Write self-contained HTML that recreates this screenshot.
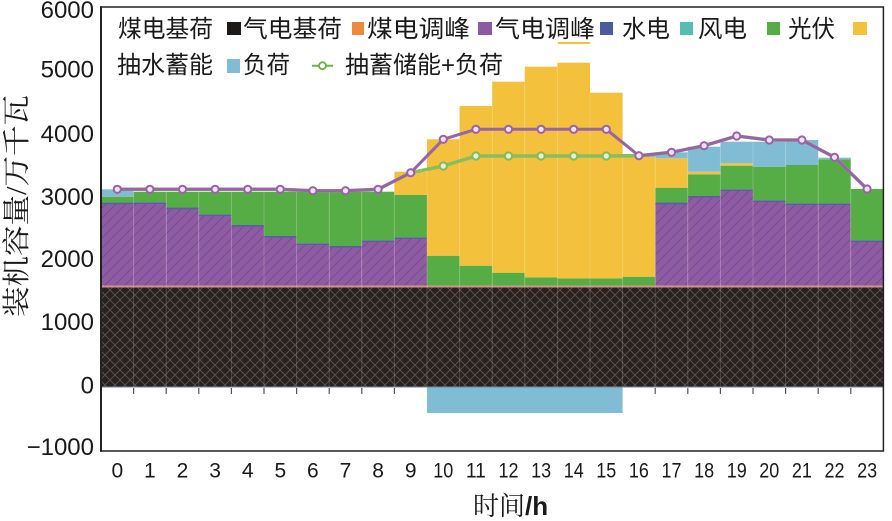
<!DOCTYPE html>
<html>
<head>
<meta charset="utf-8">
<style>
  html,body{margin:0;padding:0;background:#fff;}
  svg{display:block;}
  .cjk{font-family:"Liberation Sans","Noto Sans CJK SC",sans-serif;}
  .cjks{font-family:"Liberation Serif","Noto Serif CJK SC",serif;}
  .num{font-family:"Liberation Sans",sans-serif;fill:#1a1a1a;}
</style>
</head>
<body>
<svg width="892" height="521" viewBox="0 0 892 521" xmlns="http://www.w3.org/2000/svg">
  <defs>
    <pattern id="xh" patternUnits="userSpaceOnUse" width="10" height="10">
      <rect width="10" height="10" fill="#29211e"/>
      <path d="M0,0 L10,10 M10,0 L0,10" stroke="#5c5450" stroke-width="0.9"/>
    </pattern>
    <pattern id="ph" patternUnits="userSpaceOnUse" width="10" height="10">
      <rect width="10" height="10" fill="#8e5ca2"/>
      <path d="M0,10 L10,0 M-1,1 L1,-1 M9,11 L11,9" stroke="#7a4a8f" stroke-width="1"/>
    </pattern>
  </defs>

  <rect width="892" height="521" fill="#fff"/>

  <!-- black base (coal base) -->
  <rect x="101" y="287" width="782.4" height="100" fill="url(#xh)"/>
  <!-- orange thin band -->
  <rect x="101" y="285" width="782.4" height="2.5" fill="#d4928a"/>

  <!-- purple (with hatch) -->
  <g fill="url(#ph)">
    <rect x="101" y="203.3" width="32.6" height="82.2"/>
    <rect x="133.6" y="203" width="32.6" height="82.5"/>
    <rect x="166.2" y="208.3" width="32.6" height="77.2"/>
    <rect x="198.8" y="215" width="32.6" height="70.5"/>
    <rect x="231.4" y="225.7" width="32.6" height="59.8"/>
    <rect x="264" y="236.7" width="32.6" height="48.8"/>
    <rect x="296.6" y="244" width="32.6" height="41.5"/>
    <rect x="329.2" y="246.7" width="32.6" height="38.8"/>
    <rect x="361.8" y="241" width="32.6" height="44.5"/>
    <rect x="394.4" y="238" width="32.6" height="47.5"/>
    <rect x="655.2" y="203.3" width="32.6" height="82.2"/>
    <rect x="687.8" y="196.7" width="32.6" height="88.8"/>
    <rect x="720.4" y="190" width="32.6" height="95.5"/>
    <rect x="753" y="201" width="32.6" height="84.5"/>
    <rect x="785.6" y="204" width="32.6" height="81.5"/>
    <rect x="818.2" y="204" width="32.6" height="81.5"/>
    <rect x="850.8" y="241" width="32.6" height="44.5"/>
  </g>
  <!-- navy thin strips on top of purple -->
  <g fill="#5a5ea6">
    <rect x="101" y="202.5" width="32.6" height="1.8"/>
    <rect x="133.6" y="202.2" width="32.6" height="1.8"/>
    <rect x="166.2" y="207.5" width="32.6" height="1.8"/>
    <rect x="198.8" y="214.2" width="32.6" height="1.8"/>
    <rect x="231.4" y="224.9" width="32.6" height="1.8"/>
    <rect x="264" y="235.9" width="32.6" height="1.8"/>
    <rect x="296.6" y="243.2" width="32.6" height="1.8"/>
    <rect x="329.2" y="245.9" width="32.6" height="1.8"/>
    <rect x="361.8" y="240.2" width="32.6" height="1.8"/>
    <rect x="394.4" y="237.2" width="32.6" height="1.8"/>
    <rect x="655.2" y="202.5" width="32.6" height="1.8"/>
    <rect x="687.8" y="195.9" width="32.6" height="1.8"/>
    <rect x="720.4" y="189.2" width="32.6" height="1.8"/>
    <rect x="753" y="200.2" width="32.6" height="1.8"/>
    <rect x="785.6" y="203.2" width="32.6" height="1.8"/>
    <rect x="818.2" y="203.2" width="32.6" height="1.8"/>
    <rect x="850.8" y="240.2" width="32.6" height="1.8"/>
  </g>

  <!-- green (wind) -->
  <g fill="#57ad45">
    <rect x="101" y="196.7" width="32.6" height="6"/>
    <rect x="133.6" y="191.7" width="32.6" height="10.6"/>
    <rect x="166.2" y="191.7" width="32.6" height="15.9"/>
    <rect x="198.8" y="191.7" width="32.6" height="22.6"/>
    <rect x="231.4" y="191.7" width="32.6" height="33.3"/>
    <rect x="264" y="191.7" width="32.6" height="44.3"/>
    <rect x="296.6" y="191.7" width="32.6" height="51.6"/>
    <rect x="329.2" y="191.7" width="32.6" height="54.3"/>
    <rect x="361.8" y="191.7" width="32.6" height="48.6"/>
    <rect x="394.4" y="195" width="32.6" height="42.3"/>
    <rect x="427" y="255.7" width="32.6" height="29.8"/>
    <rect x="459.6" y="265.7" width="32.6" height="19.8"/>
    <rect x="492.2" y="272.7" width="32.6" height="12.8"/>
    <rect x="524.8" y="277.3" width="32.6" height="8.2"/>
    <rect x="557.4" y="278.3" width="32.6" height="7.2"/>
    <rect x="590" y="278.3" width="32.6" height="7.2"/>
    <rect x="622.6" y="276.7" width="32.6" height="8.8"/>
    <rect x="655.2" y="187.7" width="32.6" height="14.9"/>
    <rect x="687.8" y="174.3" width="32.6" height="21.7"/>
    <rect x="720.4" y="165.7" width="32.6" height="23.6"/>
    <rect x="753" y="166.7" width="32.6" height="33.6"/>
    <rect x="785.6" y="165" width="32.6" height="38.3"/>
    <rect x="818.2" y="159.3" width="32.6" height="44"/>
    <rect x="850.8" y="189" width="32.6" height="51.3"/>
  </g>

  <!-- yellow (PV) -->
  <g fill="#f3c13c">
    <rect x="394.4" y="171.7" width="32.6" height="23.3"/>
    <rect x="427" y="139.3" width="32.6" height="116.4"/>
    <rect x="459.6" y="106" width="32.6" height="159.7"/>
    <rect x="492.2" y="81.7" width="32.6" height="191"/>
    <rect x="524.8" y="66.7" width="32.6" height="210.6"/>
    <rect x="557.4" y="62.7" width="32.6" height="215.6"/>
    <rect x="590" y="92.7" width="32.6" height="185.6"/>
    <rect x="622.6" y="157" width="32.6" height="119.7"/>
    <rect x="655.2" y="158.3" width="32.6" height="29.4"/>
    <rect x="687.8" y="171.7" width="32.6" height="2.6"/>
    <rect x="720.4" y="163.3" width="32.6" height="2.4"/>
  </g>

  <!-- light blue (pumped storage) -->
  <g fill="#80bdd4">
    <rect x="101" y="189.3" width="32.6" height="7.4"/>
    <rect x="622.6" y="154" width="32.6" height="3"/>
    <rect x="655.2" y="152.3" width="32.6" height="6"/>
    <rect x="687.8" y="146.7" width="32.6" height="25"/>
    <rect x="720.4" y="141.7" width="32.6" height="21.6"/>
    <rect x="753" y="141.7" width="32.6" height="25"/>
    <rect x="785.6" y="140" width="32.6" height="25"/>
    <rect x="818.2" y="157.7" width="32.6" height="1.6"/>
    <rect x="427" y="387" width="195.6" height="26"/>
  </g>

  <!-- bar boundary faint lines -->
  <g stroke="#ffffff" stroke-opacity="0.18" stroke-width="1">
    <line x1="133.6" y1="190" x2="133.6" y2="387"/>
    <line x1="166.2" y1="192" x2="166.2" y2="387"/>
    <line x1="198.8" y1="192" x2="198.8" y2="387"/>
    <line x1="231.4" y1="192" x2="231.4" y2="387"/>
    <line x1="264" y1="192" x2="264" y2="387"/>
    <line x1="296.6" y1="192" x2="296.6" y2="387"/>
    <line x1="329.2" y1="192" x2="329.2" y2="387"/>
    <line x1="361.8" y1="192" x2="361.8" y2="387"/>
    <line x1="394.4" y1="192" x2="394.4" y2="387"/>
    <line x1="427" y1="172" x2="427" y2="387"/>
    <line x1="459.6" y1="140" x2="459.6" y2="387"/>
    <line x1="492.2" y1="106" x2="492.2" y2="387"/>
    <line x1="524.8" y1="82" x2="524.8" y2="387"/>
    <line x1="557.4" y1="67" x2="557.4" y2="387"/>
    <line x1="590" y1="93" x2="590" y2="387"/>
    <line x1="622.6" y1="155" x2="622.6" y2="387"/>
    <line x1="655.2" y1="155" x2="655.2" y2="387"/>
    <line x1="687.8" y1="153" x2="687.8" y2="387"/>
    <line x1="720.4" y1="147" x2="720.4" y2="387"/>
    <line x1="753" y1="142" x2="753" y2="387"/>
    <line x1="785.6" y1="142" x2="785.6" y2="387"/>
    <line x1="818.2" y1="158" x2="818.2" y2="387"/>
    <line x1="850.8" y1="160" x2="850.8" y2="387"/>
  </g>

  <!-- zero line -->
  <line x1="101" y1="387" x2="883.4" y2="387" stroke="#7482a0" stroke-width="1"/>

  <!-- x ticks below zero -->
  <g stroke="#555" stroke-width="1.2">
    <line x1="133.6" y1="388" x2="133.6" y2="394"/>
    <line x1="166.2" y1="388" x2="166.2" y2="394"/>
    <line x1="198.8" y1="388" x2="198.8" y2="394"/>
    <line x1="231.4" y1="388" x2="231.4" y2="394"/>
    <line x1="264" y1="388" x2="264" y2="394"/>
    <line x1="296.6" y1="388" x2="296.6" y2="394"/>
    <line x1="329.2" y1="388" x2="329.2" y2="394"/>
    <line x1="361.8" y1="388" x2="361.8" y2="394"/>
    <line x1="394.4" y1="388" x2="394.4" y2="394"/>
    <line x1="655.2" y1="388" x2="655.2" y2="394"/>
    <line x1="687.8" y1="388" x2="687.8" y2="394"/>
    <line x1="720.4" y1="388" x2="720.4" y2="394"/>
    <line x1="753" y1="388" x2="753" y2="394"/>
    <line x1="785.6" y1="388" x2="785.6" y2="394"/>
    <line x1="818.2" y1="388" x2="818.2" y2="394"/>
    <line x1="850.8" y1="388" x2="850.8" y2="394"/>
  </g>

  <!-- green line (storage + load) -->
  <polyline fill="none" stroke="#88bd60" stroke-width="3.5" stroke-linejoin="round"
    points="117.3,189.3 149.9,189.3 182.5,189.3 215.1,189.3 247.7,189.3 280.3,189.3 312.9,190.7 345.5,190.7 378.1,189.3 410.7,172.7 443.3,166 475.9,156 508.5,156 541.1,156 573.7,156 606.3,156 638.9,155.7 671.5,152.3 704.1,145.7 736.7,136 769.3,140 801.9,140 834.5,157.3 867.1,189"/>
  <g fill="#e4f1da" stroke="#84ba5a" stroke-width="2">
    <circle cx="443.3" cy="166" r="3.6"/>
    <circle cx="475.9" cy="156" r="3.6"/>
    <circle cx="508.5" cy="156" r="3.6"/>
    <circle cx="541.1" cy="156" r="3.6"/>
    <circle cx="573.7" cy="156" r="3.6"/>
    <circle cx="606.3" cy="156" r="3.6"/>
  </g>

  <!-- purple line -->
  <polyline fill="none" stroke="#9a62a9" stroke-width="3" stroke-linejoin="round"
    points="117.3,189.3 149.9,189.3 182.5,189.3 215.1,189.3 247.7,189.3 280.3,189.3 312.9,190.7 345.5,190.7 378.1,189.3 410.7,172.7 443.3,139.3 475.9,129.3 508.5,129.3 541.1,129.3 573.7,129.3 606.3,129.3 638.9,155.7 671.5,152.3 704.1,145.7 736.7,136 769.3,140 801.9,140 834.5,157.3 867.1,189"/>
  <g fill="#f0e2f3" stroke="#9a62a9" stroke-width="2">
    <circle cx="117.3" cy="189.3" r="3.6"/>
    <circle cx="149.9" cy="189.3" r="3.6"/>
    <circle cx="182.5" cy="189.3" r="3.6"/>
    <circle cx="215.1" cy="189.3" r="3.6"/>
    <circle cx="247.7" cy="189.3" r="3.6"/>
    <circle cx="280.3" cy="189.3" r="3.6"/>
    <circle cx="312.9" cy="190.7" r="3.6"/>
    <circle cx="345.5" cy="190.7" r="3.6"/>
    <circle cx="378.1" cy="189.3" r="3.6"/>
    <circle cx="410.7" cy="172.7" r="3.6"/>
    <circle cx="443.3" cy="139.3" r="3.6"/>
    <circle cx="475.9" cy="129.3" r="3.6"/>
    <circle cx="508.5" cy="129.3" r="3.6"/>
    <circle cx="541.1" cy="129.3" r="3.6"/>
    <circle cx="573.7" cy="129.3" r="3.6"/>
    <circle cx="606.3" cy="129.3" r="3.6"/>
    <circle cx="638.9" cy="155.7" r="3.6"/>
    <circle cx="671.5" cy="152.3" r="3.6"/>
    <circle cx="704.1" cy="145.7" r="3.6"/>
    <circle cx="736.7" cy="136" r="3.6"/>
    <circle cx="769.3" cy="140" r="3.6"/>
    <circle cx="801.9" cy="140" r="3.6"/>
    <circle cx="834.5" cy="157.3" r="3.6"/>
    <circle cx="867.1" cy="189" r="3.6"/>
  </g>

  <!-- frame -->
  <rect x="101" y="7" width="782.4" height="444" fill="none" stroke="#222" stroke-width="1.5"/>
  <line x1="101" y1="6.3" x2="101" y2="451.7" stroke="#222" stroke-width="2"/>

  <!-- legend -->
  <g class="cjk" font-size="24" fill="#1a1a1a">
    <text x="118" y="37" textLength="95" lengthAdjust="spacingAndGlyphs">煤电基荷</text>
    <text x="243" y="37" textLength="99" lengthAdjust="spacingAndGlyphs">气电基荷</text>
    <text x="367" y="37" textLength="103" lengthAdjust="spacingAndGlyphs">煤电调峰</text>
    <text x="495" y="37" textLength="100" lengthAdjust="spacingAndGlyphs">气电调峰</text>
    <text x="622" y="37" textLength="48" lengthAdjust="spacingAndGlyphs">水电</text>
    <text x="698" y="37" textLength="49" lengthAdjust="spacingAndGlyphs">风电</text>
    <text x="788" y="37" textLength="47" lengthAdjust="spacingAndGlyphs">光伏</text>
    <text x="117" y="73" textLength="96" lengthAdjust="spacingAndGlyphs">抽水蓄能</text>
    <text x="243" y="73" textLength="47" lengthAdjust="spacingAndGlyphs">负荷</text>
    <text x="345" y="73" textLength="158" lengthAdjust="spacingAndGlyphs">抽蓄储能+负荷</text>
  </g>
  <rect x="227" y="22" width="14" height="13" fill="#1e1a19"/>
  <rect x="352" y="22" width="12" height="13" fill="#ee8a3c"/>
  <rect x="478" y="22" width="14" height="13" fill="#8b5aa0"/>
  <rect x="600" y="22" width="13" height="13" fill="#4d5a9c"/>
  <rect x="680" y="22" width="13" height="13" fill="#57bdb3"/>
  <rect x="767" y="22" width="13" height="13" fill="#57ad45"/>
  <rect x="853" y="22" width="14" height="13" fill="#f3c13c"/>
  <rect x="227" y="59" width="13" height="14" fill="#80bdd4"/>
  <rect x="558" y="42" width="32" height="2" fill="#f3c13c"/>
  <line x1="312" y1="65.7" x2="333" y2="65.7" stroke="#6fae4a" stroke-width="2"/>
  <circle cx="322.5" cy="65.7" r="3.5" fill="#fff" stroke="#6fae4a" stroke-width="1.8"/>

  <!-- y tick labels -->
  <g class="num" font-size="24" text-anchor="end">
    <text x="94" y="18">6000</text>
    <text x="94" y="77.5">5000</text>
    <text x="94" y="142">4000</text>
    <text x="94" y="205">3000</text>
    <text x="94" y="267">2000</text>
    <text x="94" y="330">1000</text>
    <text x="94" y="393.5">0</text>
    <text x="94" y="455">−1000</text>
  </g>

  <!-- x tick labels -->
  <g class="num" font-size="21" text-anchor="middle">
    <text x="117.3" y="477.5">0</text>
    <text x="149.9" y="477.5">1</text>
    <text x="182.5" y="477.5">2</text>
    <text x="215.1" y="477.5">3</text>
    <text x="247.7" y="477.5">4</text>
    <text x="280.3" y="477.5">5</text>
    <text x="312.9" y="477.5">6</text>
    <text x="345.5" y="477.5">7</text>
    <text x="378.1" y="477.5">8</text>
    <text x="410.7" y="477.5">9</text>
    <text x="443.3" y="477.5" textLength="20" lengthAdjust="spacingAndGlyphs">10</text>
    <text x="475.9" y="477.5" textLength="20" lengthAdjust="spacingAndGlyphs">11</text>
    <text x="508.5" y="477.5" textLength="20" lengthAdjust="spacingAndGlyphs">12</text>
    <text x="541.1" y="477.5" textLength="20" lengthAdjust="spacingAndGlyphs">13</text>
    <text x="573.7" y="477.5" textLength="20" lengthAdjust="spacingAndGlyphs">14</text>
    <text x="606.3" y="477.5" textLength="20" lengthAdjust="spacingAndGlyphs">15</text>
    <text x="638.9" y="477.5" textLength="20" lengthAdjust="spacingAndGlyphs">16</text>
    <text x="671.5" y="477.5" textLength="20" lengthAdjust="spacingAndGlyphs">17</text>
    <text x="704.1" y="477.5" textLength="20" lengthAdjust="spacingAndGlyphs">18</text>
    <text x="736.7" y="477.5" textLength="20" lengthAdjust="spacingAndGlyphs">19</text>
    <text x="769.3" y="477.5" textLength="20" lengthAdjust="spacingAndGlyphs">20</text>
    <text x="801.9" y="477.5" textLength="20" lengthAdjust="spacingAndGlyphs">21</text>
    <text x="834.5" y="477.5" textLength="20" lengthAdjust="spacingAndGlyphs">22</text>
    <text x="867.1" y="477.5" textLength="20" lengthAdjust="spacingAndGlyphs">23</text>
  </g>

  <!-- axis titles -->
  <text class="cjks" font-size="28" fill="#1a1a1a" text-anchor="middle"
        transform="translate(26,206) rotate(-90)" textLength="222" lengthAdjust="spacingAndGlyphs">装机容量/万千瓦</text>
  <text class="cjks" x="473" y="515" font-size="26" fill="#1a1a1a">时间<tspan font-family="Liberation Sans, sans-serif" font-weight="bold">/h</tspan></text>
</svg>
</body>
</html>
